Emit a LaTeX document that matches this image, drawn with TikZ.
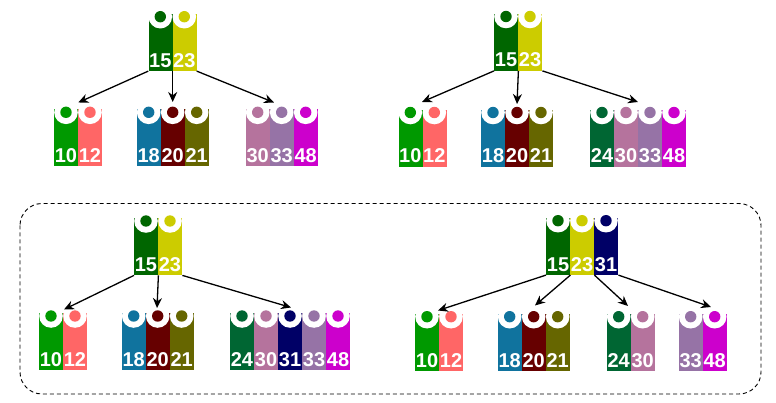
\documentclass[tikz,border=0pt]{standalone}
\usepackage{fontspec}
\setmainfont{Liberation Sans}
\usetikzlibrary{arrows.meta,calc}

\definecolor{kdgreen}{HTML}{006600}
\definecolor{kyellow}{HTML}{CCCC00}
\definecolor{kgreen}{HTML}{009900}
\definecolor{ksalmon}{HTML}{FF6666}
\definecolor{kblue}{HTML}{10739E}
\definecolor{kred}{HTML}{660000}
\definecolor{kolive}{HTML}{666600}
\definecolor{kteal}{HTML}{006633}
\definecolor{kmauve}{HTML}{B5739D}
\definecolor{kpurple}{HTML}{9673A6}
\definecolor{kmagenta}{HTML}{CC00CC}
\definecolor{knavy}{HTML}{000066}

\tikzset{
  keycol/.style={anchor=north west,inner sep=0pt,minimum width=24pt,minimum height=57pt},
  keytxt/.style={anchor=base,inner sep=0pt,text=white,font=\bfseries\fontsize{20}{20}\selectfont},
  arr/.style={line width=1.3pt,-{Stealth[length=10pt,width=9pt]}},
}

% one btree node: name, left x, dot y, list colour/key
\newcommand{\bnode}[4]{%
  \foreach \col/\lab [count=\i] in {#4}{%
    \pgfmathsetmacro{\xx}{#2+24*(\i-1)}
    \node[keycol,fill=\col] (#1-\i) at (\xx,#3-3) {};
    \fill[white] (\xx+12,#3) circle[radius=11.8pt];
    \fill[\col] (\xx+12,#3) circle[radius=5.7pt];
    \node[keytxt] (#1-\i t) at (\xx+12,#3+50.5) {\lab};
  }%
}

\begin{document}
\begin{tikzpicture}[x=1pt,y=-1pt]
\useasboundingbox (0,0) rectangle (776,403);

% top left
\bnode{tlr}{148.3}{16.7}{kdgreen/15,kyellow/23}
\bnode{tla}{54}{112.3}{kgreen/10,ksalmon/12}
\bnode{tlb}{136.7}{112.3}{kblue/18,kred/20,kolive/21}
\bnode{tlc}{245.7}{112.3}{kmauve/30,kpurple/33,kmagenta/48}
\coordinate (tlg1) at (78.3,102.5);
\coordinate (tlg2) at (172.7,102);
\coordinate (tlg3) at (274,102.5);
\draw[arr] (tlr-1.south west) -- (tlg1);
\draw[arr] (tlr-1.south east) -- (tlg2);
\draw[arr] (tlr-2.south east) -- (tlg3);

% top right
\bnode{trr}{494}{16.5}{kdgreen/15,kyellow/23}
\bnode{tra}{398.3}{112.5}{kgreen/10,ksalmon/12}
\bnode{trb}{481}{112.5}{kblue/18,kred/20,kolive/21}
\bnode{trc}{590}{112.5}{kteal/24,kmauve/30,kpurple/33,kmagenta/48}
\coordinate (trg1) at (422,102);
\coordinate (trg2) at (517,104);
\coordinate (trg3) at (638,102);
\draw[arr] (trr-1.south west) -- (trg1);
\draw[arr] (trr-1.south east) -- (trg2);
\draw[arr] (trr-2.south east) -- (trg3);

% bottom, dashed frame
\draw[line width=0.9pt,dash pattern=on 4pt off 3pt,rounded corners=22pt]
  (20,203.5) rectangle (761,394);

% bottom left
\bnode{blr}{134}{221}{kdgreen/15,kyellow/23}
\bnode{bla}{39}{316}{kgreen/10,ksalmon/12}
\bnode{blb}{121.7}{316}{kblue/18,kred/20,kolive/21}
\bnode{blc}{230}{316}{kteal/24,kmauve/30,knavy/31,kpurple/33,kmagenta/48}
\coordinate (blg1) at (64,309.5);
\coordinate (blg2) at (157,308);
\coordinate (blg3) at (291,307.5);
\draw[arr] (blr-1.south west) -- (blg1);
\draw[arr] (blr-1.south east) -- (blg2);
\draw[arr] (blr-2.south east) -- (blg3);

% bottom right
\bnode{brr}{546}{220.7}{kdgreen/15,kyellow/23,knavy/31}
\bnode{bra}{415}{316.7}{kgreen/10,ksalmon/12}
\bnode{brb}{497.7}{316.7}{kblue/18,kred/20,kolive/21}
\bnode{brc}{606.7}{316.7}{kteal/24,kmauve/30}
\bnode{brd}{678.7}{316.7}{kpurple/33,kmagenta/48}
\coordinate (brg1) at (438,310.5);
\coordinate (brg2) at (535,305.5);
\coordinate (brg3) at (628,306);
\coordinate (brg4) at (711,307);
\draw[arr] (brr-1.south west) -- (brg1);
\draw[arr] (brr-1.south east) -- (brg2);
\draw[arr] (brr-2.south east) -- (brg3);
\draw[arr] (brr-3.south east) -- (brg4);
\end{tikzpicture}
\end{document}
